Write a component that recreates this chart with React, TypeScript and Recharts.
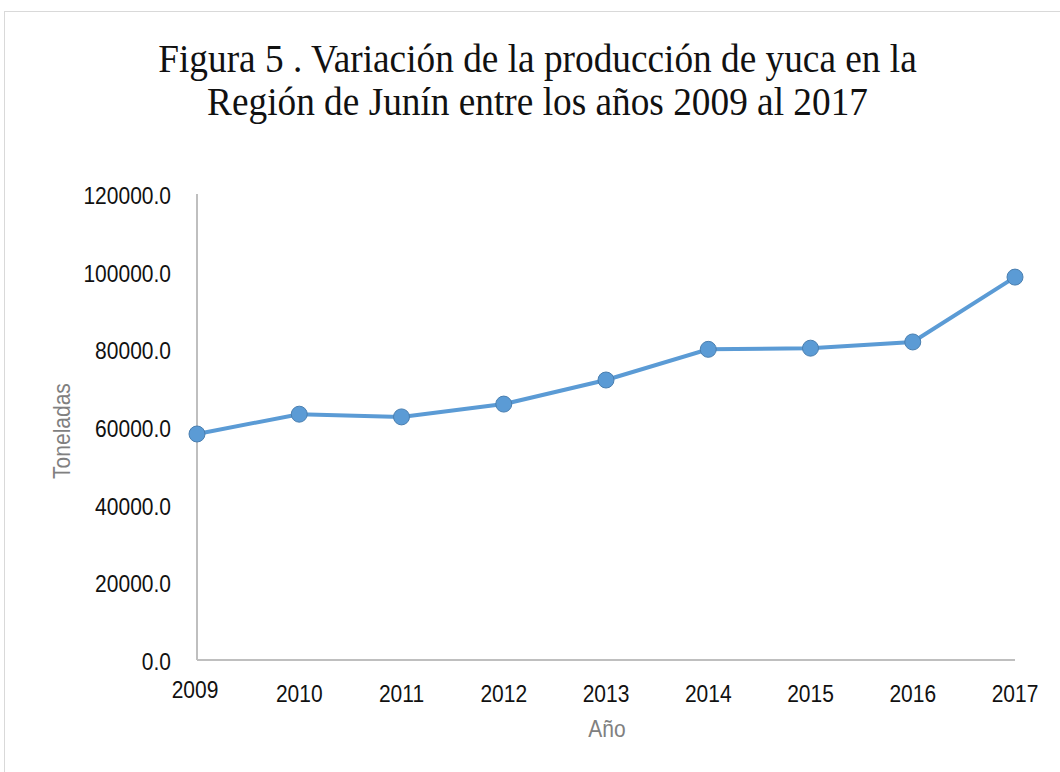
import { LineChart, Line, XAxis, YAxis } from 'recharts'

const years = ['2009', '2010', '2011', '2012', '2013', '2014', '2015', '2016', '2017']
const toneladas = [58200, 63300, 62600, 65900, 72100, 80000, 80300, 81900, 98600]
const yTicks = [0, 20000, 40000, 60000, 80000, 100000, 120000]

const data = years.map((year, i) => ({ year, value: toneladas[i] }))

const FONT = '"Liberation Sans", Arial, sans-serif'

function XTick({ x, y, payload, index }: any) {
  // the first label sits a touch higher and further left in the original
  const dx = index === 0 ? -2 : 0
  const dy = index === 0 ? 38 : 42
  return (
    <text
      transform={`translate(${x + dx},${y + dy}) scale(1,1.1)`}
      textAnchor="middle"
      fontSize={21}
      fontFamily={FONT}
      fill="#111"
    >
      {payload.value}
    </text>
  )
}

function YTick({ x, y, payload }: any) {
  return (
    <text
      transform={`translate(${x - 26},${y + 10}) scale(1,1.1)`}
      textAnchor="end"
      fontSize={21}
      fontFamily={FONT}
      fill="#111"
    >
      {Number(payload.value).toFixed(1)}
    </text>
  )
}

export default function App() {
  return (
    <div
      style={{
        position: 'absolute',
        left: 0,
        top: 0,
        width: 1060,
        height: 772,
        overflow: 'hidden',
        background: '#fff',
      }}
    >
      <div
        style={{
          position: 'absolute',
          left: 4,
          top: 11,
          width: 1100,
          height: 800,
          border: '1.5px solid #d9d9d9',
        }}
      />
      <div
        style={{
          position: 'absolute',
          left: 0,
          top: 37,
          width: 1075,
          textAlign: 'center',
          fontFamily: '"Liberation Serif", "Times New Roman", serif',
          fontSize: 37.3,
          lineHeight: '39px',
          color: '#111',
          transform: 'scaleY(1.1)',
          transformOrigin: 'center top',
        }}
      >
        Figura 5 . Variación de la producción de yuca en la
        <br />
        Región de Junín entre los años 2009 al 2017
      </div>
      <div style={{ position: 'absolute', left: 0, top: 0 }}>
        <LineChart
          width={1060}
          height={772}
          data={data}
          margin={{ top: 194, right: 45, bottom: 62, left: 97 }}
        >
          <XAxis
            dataKey="year"
            height={50}
            tickLine={false}
            tickSize={0}
            tickMargin={0}
            axisLine={{ stroke: '#bfbfbf', strokeWidth: 2 }}
            tick={<XTick />}
            interval={0}
          />
          <YAxis
            width={100}
            domain={[0, 120000]}
            ticks={yTicks}
            tickLine={false}
            tickSize={0}
            tickMargin={0}
            axisLine={{ stroke: '#bfbfbf', strokeWidth: 2 }}
            tick={<YTick />}
          />
          <Line
            type="linear"
            dataKey="value"
            stroke="#5b9bd5"
            strokeWidth={4}
            dot={{ r: 8, fill: '#5b9bd5', stroke: '#4a7fb0', strokeWidth: 1 }}
            isAnimationActive={false}
          />
        </LineChart>
      </div>
      <div
        style={{
          position: 'absolute',
          left: 62,
          top: 431,
          transform: 'translate(-50%,-50%) rotate(-90deg) scaleY(1.1)',
          fontFamily: FONT,
          fontSize: 21,
          color: '#808080',
          whiteSpace: 'nowrap',
        }}
      >
        Toneladas
      </div>
      <div
        style={{
          position: 'absolute',
          left: 607,
          top: 729,
          transform: 'translate(-50%,-50%) scaleY(1.1)',
          fontFamily: FONT,
          fontSize: 21,
          color: '#808080',
          whiteSpace: 'nowrap',
        }}
      >
        Año
      </div>
    </div>
  )
}
